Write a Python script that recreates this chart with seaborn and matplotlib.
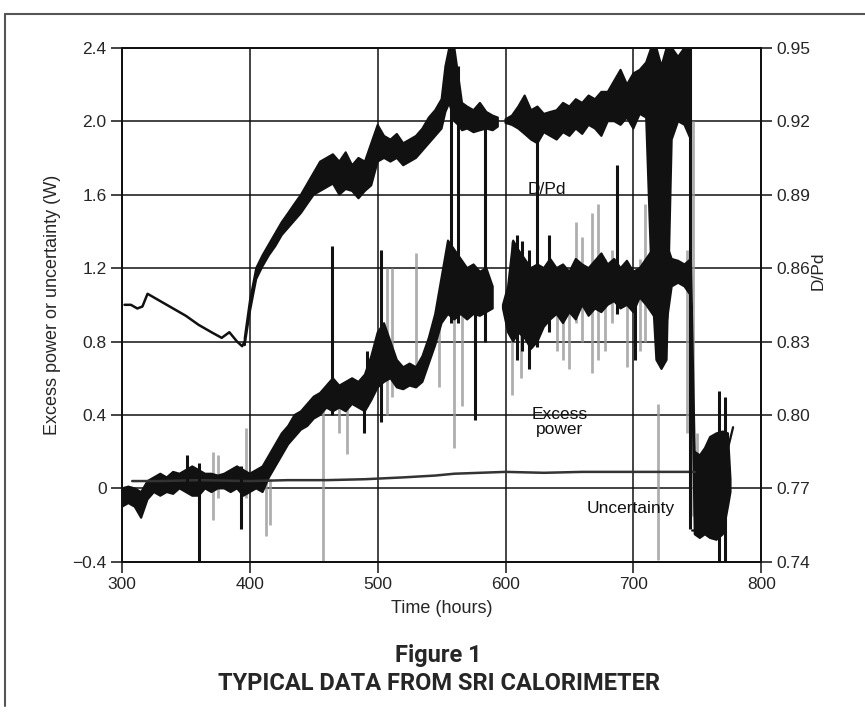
import numpy as np
import pandas as pd
import matplotlib
matplotlib.use("Agg")
import matplotlib.pyplot as plt
from matplotlib.lines import Line2D
import seaborn as sns

# ---------------- data ----------------
# D/Pd, early thin segment (right axis units)
dpd_early_t = [302, 307, 312, 316, 320, 330, 340, 350, 360, 370, 378, 384, 390, 394, 396]
dpd_early = [0.845, 0.845, 0.8435, 0.8443, 0.8495, 0.8465, 0.8435, 0.8405, 0.8368,
             0.8338, 0.8315, 0.8338, 0.830, 0.8281, 0.830]

# D/Pd noisy band (right axis units), lower / upper envelope
dpd_t = [396, 400, 405, 410, 415, 420, 425, 430, 435, 440, 445, 450, 455, 460, 465, 470,
         475, 480, 485, 490, 495, 500, 505, 510, 515, 520, 525, 530, 535, 540, 545, 550,
         553, 556, 560, 563, 566, 570, 575, 580, 585, 590, 594, 596, 600, 605, 610, 615,
         620, 625, 630, 635, 640, 645, 650, 655, 660, 665, 670, 675, 680, 685, 690, 695,
         700, 705, 710, 714, 718, 722, 726, 730, 735, 740, 745]
dpd_lo = [0.8285, 0.842, 0.8555, 0.8608, 0.8653, 0.869, 0.8735, 0.8765, 0.8795, 0.8825,
          0.8863, 0.890, 0.8915, 0.893, 0.8945, 0.890, 0.8923, 0.8915, 0.8885, 0.8915,
          0.8938, 0.9035, 0.905, 0.9035, 0.905, 0.902, 0.9035, 0.905, 0.908, 0.911,
          0.914, 0.917, 0.9238, 0.9275, 0.920, 0.9185, 0.9163, 0.917, 0.9155, 0.9163,
          0.917, 0.9163, 0.9178, np.nan, 0.9193, 0.9185, 0.917, 0.9148, 0.9125, 0.911,
          0.9155, 0.914, 0.9125, 0.9155, 0.914, 0.917, 0.9148, 0.9185, 0.917, 0.914,
          0.920, 0.920, 0.9185, 0.9215, 0.917, 0.923, 0.9215, 0.860, 0.8225, 0.8188,
          0.8225, 0.9125, 0.920, 0.9185, 0.9125]
dpd_hi = [0.8315, 0.8465, 0.860, 0.8653, 0.8698, 0.8743, 0.8788, 0.8825, 0.8863, 0.890,
          0.8945, 0.899, 0.9035, 0.905, 0.9065, 0.9035, 0.9073, 0.902, 0.905, 0.9035,
          0.911, 0.9185, 0.914, 0.9125, 0.9148, 0.911, 0.9125, 0.914, 0.917, 0.9215,
          0.9245, 0.929, 0.9425, 0.950, 0.950, 0.9388, 0.9275, 0.926, 0.9245, 0.9275,
          0.9238, 0.9223, 0.9215, np.nan, 0.9208, 0.9223, 0.926, 0.9305, 0.9245, 0.926,
          0.923, 0.9238, 0.9245, 0.9275, 0.926, 0.929, 0.9275, 0.9305, 0.929, 0.932,
          0.932, 0.9365, 0.941, 0.935, 0.9395, 0.941, 0.944, 0.950, 0.950, 0.9425,
          0.950, 0.950, 0.9463, 0.950, 0.950]

# D/Pd tail after the drop (right axis units)
dpd_tail_t = [746, 752, 761, 762, 768, 772, 778]
dpd_tail = [0.7528, 0.7528, 0.7528, 0.755, 0.755, 0.782, 0.795]

# Excess power noisy band (W)
xp_t = [300, 305, 310, 315, 320, 325, 330, 335, 340, 345, 350, 355, 360, 365, 370, 375,
        380, 385, 390, 395, 400, 405, 410, 415, 420, 425, 430, 435, 440, 445, 450, 455,
        460, 465, 470, 475, 480, 485, 490, 495, 500, 505, 510, 515, 520, 525, 530, 535,
        540, 545, 550, 555, 560, 565, 570, 575, 580, 585, 590, 594, 598, 602, 606, 610,
        615, 620, 625, 630, 635, 640, 645, 650, 655, 660, 665, 670, 675, 680, 685, 690,
        695, 700, 705, 710, 715, 720, 725, 730, 735, 740, 745, 748, 752, 756, 760, 765,
        770, 774, 776]
xp_lo = [-0.10, -0.08, -0.10, -0.16, -0.06, -0.02, -0.04, -0.02, -0.03, 0.00, -0.02, -0.04,
         -0.04, 0.00, -0.02, 0.00, 0.00, -0.02, 0.00, -0.04, -0.02, 0.00, -0.02, 0.06,
         0.12, 0.18, 0.24, 0.28, 0.32, 0.34, 0.38, 0.40, 0.44, 0.42, 0.44, 0.42, 0.46,
         0.44, 0.42, 0.48, 0.55, 0.58, 0.60, 0.55, 0.54, 0.56, 0.55, 0.58, 0.68, 0.78,
         0.90, 0.95, 0.92, 0.95, 0.92, 0.95, 0.94, 0.96, 0.98, np.nan, 0.98, 0.85, 0.80,
         0.85, 0.82, 0.76, 0.80, 0.88, 0.92, 0.95, 0.90, 0.96, 0.92, 1.00, 0.94, 0.98,
         0.96, 1.00, 1.02, 0.98, 1.00, 0.96, 1.04, 1.00, 0.95, 0.90, 0.85, 1.10, 1.12,
         1.10, 1.05, -0.25, -0.27, -0.25, -0.27, -0.28, -0.25, -0.10, -0.02]
xp_hi = [0.00, 0.01, 0.00, -0.02, 0.04, 0.06, 0.08, 0.06, 0.09, 0.08, 0.10, 0.12, 0.10,
         0.08, 0.08, 0.07, 0.08, 0.10, 0.12, 0.10, 0.08, 0.10, 0.12, 0.18, 0.24, 0.30,
         0.34, 0.40, 0.42, 0.46, 0.50, 0.52, 0.56, 0.60, 0.56, 0.58, 0.60, 0.58, 0.62,
         0.72, 0.85, 0.90, 0.80, 0.70, 0.66, 0.68, 0.66, 0.72, 0.82, 0.95, 1.15, 1.35,
         1.30, 1.25, 1.20, 1.22, 1.18, 1.20, 1.10, np.nan, 1.00, 1.10, 1.35, 1.30, 1.25,
         1.20, 1.22, 1.20, 1.25, 1.20, 1.22, 1.18, 1.25, 1.22, 1.20, 1.24, 1.28, 1.22,
         1.25, 1.20, 1.24, 1.18, 1.20, 1.25, 1.30, 1.30, 1.35, 1.25, 1.24, 1.22, 1.25,
         0.20, 0.18, 0.22, 0.28, 0.30, 0.31, 0.30, 0.05]

# Uncertainty (W)
unc_t = [308, 330, 360, 400, 430, 460, 490, 520, 545, 560, 580, 600, 630, 660, 700, 730, 748]
unc = [0.04, 0.04, 0.045, 0.04, 0.045, 0.045, 0.05, 0.06, 0.07, 0.08, 0.085, 0.09,
       0.085, 0.09, 0.09, 0.09, 0.09]

# Spikes (W): time, low, high, dark(1)/grey(0)
spike_t = [351, 360, 371, 375, 393, 397, 413, 416, 457, 464, 470, 476, 489, 492, 503,
           507, 511, 530, 548, 557, 560, 563, 566, 576, 584, 605, 609, 612, 613, 618,
           625, 634, 640, 645, 650, 655, 660, 668, 672, 678, 683, 687, 695, 701, 705,
           709, 719, 742, 744, 747, 750, 767, 772]
spike_lo = [0.00, -0.42, -0.17, -0.05, -0.22, -0.05, -0.26, -0.20, -0.40, 0.40, 0.30,
            0.19, 0.30, 0.45, 0.36, 0.40, 0.50, 0.55, 0.55, 0.90, 0.22, 0.90, 0.45,
            0.37, 0.80, 0.51, 0.70, 0.60, 0.75, 0.65, 0.77, 0.85, 0.75, 0.70, 0.65,
            0.90, 0.80, 0.63, 0.70, 0.75, 0.90, 0.95, 0.66, 0.70, 0.75, 0.80, -0.39,
            0.30, -0.22, -0.15, -0.25, -0.45, -0.40]
spike_hi = [0.18, 0.14, 0.20, 0.18, 0.12, 0.33, 0.10, 0.05, 0.50, 1.32, 0.55, 0.50,
            0.55, 0.75, 1.30, 1.20, 1.20, 1.28, 1.05, 2.38, 1.00, 2.30, 1.00, 1.00,
            2.00, 1.35, 1.38, 1.00, 1.35, 1.30, 1.89, 1.38, 1.20, 1.10, 1.05, 1.45,
            1.37, 1.50, 1.55, 1.25, 1.30, 1.76, 1.10, 1.10, 1.25, 1.55, 0.46, 1.30,
            2.40, 2.00, 0.30, 0.53, 0.50]
spike_dark = [1, 1, 0, 0, 1, 0, 0, 0, 0, 1, 0, 0, 1, 1, 1, 0, 0, 0, 0, 1, 0, 1, 0,
              1, 1, 0, 1, 0, 1, 1, 1, 1, 0, 0, 0, 0, 0, 0, 0, 0, 0, 1, 0, 1, 0, 0,
              0, 0, 1, 0, 0, 1, 1]

x_ticks = [300, 400, 500, 600, 700, 800]
y_ticks = [-0.4, 0, 0.4, 0.8, 1.2, 1.6, 2.0, 2.4]
y_tick_labels = ["\u22120.4", "0", "0.4", "0.8", "1.2", "1.6", "2.0", "2.4"]
r_ticks = [0.74, 0.77, 0.80, 0.83, 0.86, 0.89, 0.92, 0.95]
r_tick_labels = ["0.74", "0.77", "0.80", "0.83", "0.86", "0.89", "0.92", "0.95"]

# ---------------- plotting ----------------
sns.set_style("white")
plt.rcParams["font.family"] = ["Liberation Sans", "DejaVu Sans"]
plt.rcParams["axes.unicode_minus"] = True

fig = plt.figure(figsize=(8.65, 7.13), dpi=100)
ax = fig.add_axes([0.141, 0.212, 0.739, 0.721])
ax2 = ax.twinx()

ax.set_xlim(300, 800)
ax.set_ylim(-0.4, 2.4)
ax2.set_ylim(0.74, 0.95)

ink = "#111111"
grey = "#9a9a9a"

for s in list(ax.spines.values()) + list(ax2.spines.values()):
    s.set_color(ink)
    s.set_linewidth(1.3)
ax.grid(True, color=ink, linewidth=1.1)
ax.set_axisbelow(True)

# spikes
sp = pd.DataFrame({"t": spike_t, "lo": spike_lo, "hi": spike_hi, "dark": spike_dark})
g = sp[sp.dark == 0]
d = sp[sp.dark == 1]
ax.vlines(g.t, g.lo, g.hi, colors=grey, linewidth=2.0, alpha=0.8, zorder=2)

# excess power band
xp = pd.DataFrame({"t": xp_t, "lo": xp_lo, "hi": xp_hi})
ax.fill_between(xp.t, xp.lo, xp.hi, color=ink, linewidth=1.5, edgecolor=ink, zorder=3)

# uncertainty
unc_df = pd.DataFrame({"t": unc_t, "v": unc})
sns.lineplot(data=unc_df, x="t", y="v", ax=ax, color="#333333", linewidth=1.8, zorder=3)

# dark spikes
ax.vlines(d.t, d.lo, d.hi, colors=ink, linewidth=2.2, zorder=4)

# D/Pd on right axis
dp = pd.DataFrame({"t": dpd_t, "lo": dpd_lo, "hi": dpd_hi})
ax2.fill_between(dp.t, dp.lo, dp.hi, color=ink, linewidth=1.5, edgecolor=ink, zorder=3)
early = pd.DataFrame({"t": dpd_early_t, "v": dpd_early})
sns.lineplot(data=early, x="t", y="v", ax=ax2, color=ink, linewidth=1.8)
tail = pd.DataFrame({"t": dpd_tail_t, "v": dpd_tail})
sns.lineplot(data=tail, x="t", y="v", ax=ax2, color=ink, linewidth=1.6)

# ticks
ax.set_xticks(x_ticks)
ax.set_yticks(y_ticks)
ax.set_yticklabels(y_tick_labels)
ax2.set_yticks(r_ticks)
ax2.set_yticklabels(r_tick_labels)
ax.tick_params(axis="both", direction="out", length=8, width=1.1, color=ink,
               labelsize=12.5, pad=3, left=True, bottom=True)
ax2.tick_params(axis="y", direction="out", length=8, width=1.1, color=ink,
                labelsize=12.5, pad=3, right=True)
ax.set_xlabel("Time (hours)", fontsize=13, labelpad=6)
ax.set_ylabel("Excess power or uncertainty (W)", fontsize=13, labelpad=8)
ax2.set_ylabel("")

# annotations
ax.text(617, 1.63, "D/Pd", fontsize=12.5, va="center", ha="left", color=ink)
ax.text(642, 0.36, "Excess\npower", fontsize=12.5, va="center", ha="center",
        color=ink, linespacing=1.0)
ax.text(698, -0.11, "Uncertainty", fontsize=12.5, va="center", ha="center", color=ink)

fig.text(0.946, 0.62, "D/Pd", rotation=90, fontsize=12.5, va="center", ha="center")

# caption
fig.text(0.507, 0.081, "Figure 1", fontsize=17, fontweight="bold", ha="center", va="center",
         family=["Roboto", "DejaVu Sans"])
fig.text(0.507, 0.042, "TYPICAL DATA FROM SRI CALORIMETER", fontsize=17, fontweight="bold",
         ha="center", va="center", family=["Roboto", "DejaVu Sans"])

# page frame
fig.add_artist(Line2D([0.006, 1.0], [0.980, 0.980], color="#555555", linewidth=1.5))
fig.add_artist(Line2D([0.006, 0.006], [0.010, 0.980], color="#555555", linewidth=1.5))

fig.savefig("out.png", dpi=100)
